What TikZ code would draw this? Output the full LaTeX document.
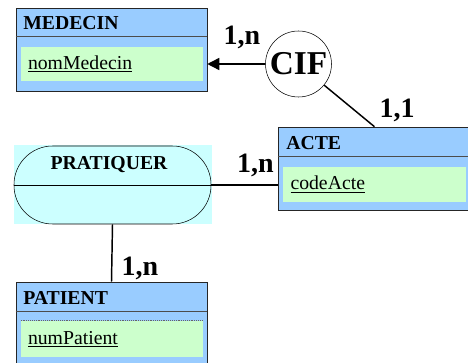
\documentclass[tikz,border=0pt]{standalone}
\usepackage{fontspec}
\setmainfont{Liberation Serif}
\usetikzlibrary{arrows.meta}
\definecolor{entblue}{RGB}{153,204,255}
\definecolor{attrgreen}{RGB}{204,255,204}
\definecolor{assoccyan}{RGB}{204,255,255}

\begin{document}
\begin{tikzpicture}[x=0.75pt,y=-0.75pt,
    entity/.style={draw=black!85, fill=entblue, minimum width=143.25pt, minimum height=62.25pt, inner sep=0pt},
    attr/.style={fill=attrgreen, minimum width=136.5pt, minimum height=26pt, inner xsep=5.25pt, text width=126pt, align=left, font=\fontsize{14.8}{16}\selectfont},
    title/.style={anchor=west, inner sep=0pt, font=\fontsize{14.8}{16}\selectfont\bfseries},
    card/.style={inner sep=0pt, font=\fontsize{21}{24}\selectfont\bfseries},
    link/.style={line width=1.1pt}]
    \useasboundingbox (0,0) rectangle (468,363);
    \clip (0,0) rectangle (468,363);
    % entities
    \node[entity] (medecin) at (111.5,49.5) {};
    \draw[black!70] ([yshift=-21.75pt]medecin.north west) -- ([yshift=-21.75pt]medecin.north east);
    \node[title] (medecintitle) at (23,23.5) {MEDECIN};
    \node[attr] (nommedecin) at (112,64) {\underline{nomMedecin}};

    \node[entity, minimum width=144.75pt] (acte) at (374.5,168.5) {};
    \draw[black!70] ([yshift=-22.5pt]acte.north west) -- ([yshift=-22.5pt]acte.north east);
    \node[title] (actetitle) at (286,143) {ACTE};
    \node[attr, minimum width=137.25pt] (codeacte) at (374.5,184.5) {\underline{codeActe}};

    \node[entity] (patient) at (111.5,323.5) {};
    \draw[black!70] ([yshift=-22.5pt]patient.north west) -- ([yshift=-22.5pt]patient.north east);
    \node[title] (patienttitle) at (23,298) {PATIENT};
    \node[attr, minimum height=27pt] (numpatient) at (112,339) {\underline{numPatient}};
    \draw[densely dotted, black!60] (numpatient.north west) -- (numpatient.north east);

    % associations
    \node[fill=assoccyan, minimum width=148.5pt, minimum height=59.25pt, inner sep=0pt] (pratiquerbg) at (112.5,184.5) {};
    \node[draw, rounded corners=29pt, minimum width=147.75pt, minimum height=58.5pt, inner sep=0pt] (pratiquer) at (112.5,185) {};
    \draw (pratiquer.west) -- (pratiquer.east);
    \node[inner sep=0pt, font=\fontsize{14.8}{16}\selectfont\bfseries] (pratiquertitle) at (109,165) {PRATIQUER};

    \node[draw, circle, fill=white, minimum size=49.5pt, inner sep=0pt, font=\fontsize{25}{28}\selectfont\bfseries] (cif) at (298.5,64) {CIF};

    % links
    \draw[link, -{Triangle[length=9pt,width=9pt]}] (cif) -- (medecin.east |- cif);
    \draw[link] (cif) -- (acte.north);
    \draw[link] (pratiquer.east) -- (acte.west |- pratiquer.east);
    \draw[link] (pratiquer.south) -- (patient.north);

    % cardinalities
    \node[card] (cardmedecin) at (242,37) {1,n};
    \node[card] (cardacte) at (397,110) {1,1};
    \node[card] (cardpratacte) at (255.5,165) {1,n};
    \node[card] (cardpatient) at (140,268) {1,n};
  \end{tikzpicture}
\end{document}
